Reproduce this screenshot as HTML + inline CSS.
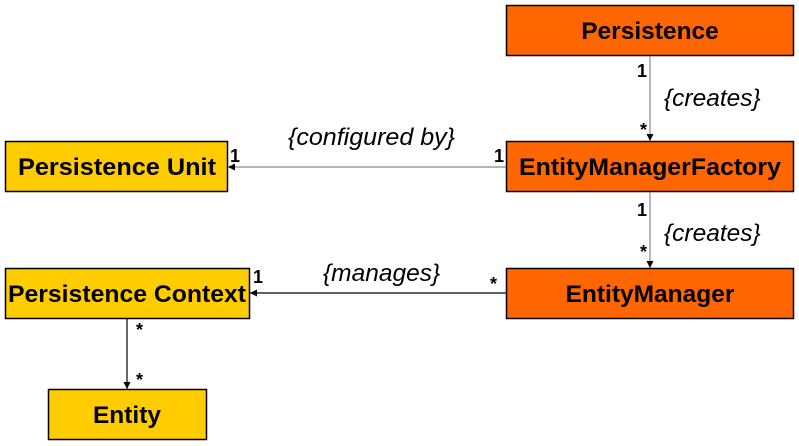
<!DOCTYPE html>
<html><head><style>
html,body{margin:0;padding:0;background:#fff;}
svg{display:block;}
.b{font-family:"Liberation Sans",Arial,sans-serif;font-weight:bold;font-size:24.5px;fill:#000;}
.i{font-family:"Liberation Sans",Arial,sans-serif;font-style:italic;font-size:24.5px;fill:#000;}
.m{font-family:"Liberation Sans",Arial,sans-serif;font-weight:bold;font-size:18px;fill:#000;}
</style></head><body>
<svg width="799" height="446" viewBox="0 0 799 446" xmlns="http://www.w3.org/2000/svg">
<defs><marker id="a" markerWidth="8" markerHeight="8" refX="7" refY="4" orient="auto" markerUnits="userSpaceOnUse"><path d="M0,0.5 L7,4 L0,7.5 z" fill="#000"/></marker></defs>
<g stroke="#000" stroke-width="1.5">
<rect x="506.5" y="5.5" width="287" height="50" fill="#ff6600"/>
<rect x="506.5" y="141.5" width="287" height="50" fill="#ff6600"/>
<rect x="506.5" y="268.5" width="287" height="50" fill="#ff6600"/>
<rect x="5.5" y="141.5" width="222" height="50" fill="#ffcc00"/>
<rect x="5.5" y="268.5" width="244" height="50" fill="#ffcc00"/>
<rect x="48.5" y="389.5" width="158" height="50" fill="#ffcc00"/>
</g>
<g stroke="#000" stroke-width="1.2" fill="none">
<line x1="650" y1="56" x2="650" y2="141" stroke="#888" marker-end="url(#a)"/>
<line x1="650" y1="192" x2="650" y2="268" stroke="#888" marker-end="url(#a)"/>
<line x1="506" y1="167" x2="228" y2="167" stroke="#888" marker-end="url(#a)"/>
<line x1="506" y1="293" x2="250" y2="293" marker-end="url(#a)"/>
<line x1="127" y1="319" x2="127" y2="389" marker-end="url(#a)"/>
</g>
<text class="b" x="650" y="39" text-anchor="middle">Persistence</text>
<text class="b" x="650" y="175" text-anchor="middle" textLength="262" lengthAdjust="spacingAndGlyphs">EntityManagerFactory</text>
<text class="b" x="650" y="302" text-anchor="middle">EntityManager</text>
<text class="b" x="117" y="175" text-anchor="middle" textLength="198" lengthAdjust="spacingAndGlyphs">Persistence Unit</text>
<text class="b" x="127" y="302" text-anchor="middle" textLength="238" lengthAdjust="spacingAndGlyphs">Persistence Context</text>
<text class="b" x="127" y="423" text-anchor="middle">Entity</text>
<text class="i" x="664" y="106">{creates}</text>
<text class="i" x="664" y="241">{creates}</text>
<text class="i" x="288" y="145" textLength="167" lengthAdjust="spacingAndGlyphs">{configured by}</text>
<text class="i" x="323" y="281">{manages}</text>
<text class="m" x="637" y="77">1</text>
<text class="m" x="640" y="136">*</text>
<text class="m" x="637" y="216">1</text>
<text class="m" x="640" y="258">*</text>
<text class="m" x="230" y="162">1</text>
<text class="m" x="494" y="162">1</text>
<text class="m" x="253" y="283">1</text>
<text class="m" x="490" y="290">*</text>
<text class="m" x="136" y="336">*</text>
<text class="m" x="136" y="386">*</text>
</svg>
</body></html>
